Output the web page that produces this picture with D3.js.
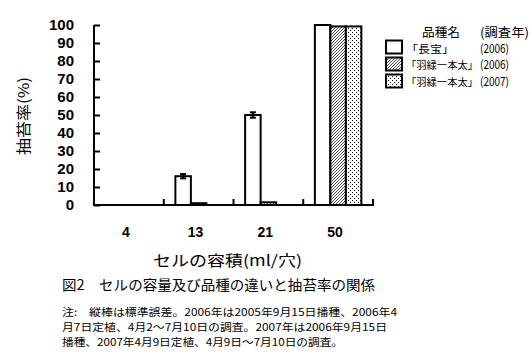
<!DOCTYPE html>
<html><head><meta charset="utf-8">
<script src="https://cdn.jsdelivr.net/npm/d3@7"></script>
<style>body{margin:0;background:#fff}svg{display:block}</style>
</head><body>
<script>
const categories = ["4", "13", "21", "50"];
const seriesNames = ["「長宝」", "「羽緑一本太」", "「羽緑一本太」"];
const seriesYears = ["(2006)", "(2006)", "(2007)"];
const choho2006 = [0, 16, 50, 100];
const hanemidori2006 = [0, 1, 1.5, 99.2];
const hanemidori2007 = [0, 0, 0, 99.2];
const choho2006Err = [0, 1.2, 1.5, 0];
const yTicks = [0, 10, 20, 30, 40, 50, 60, 70, 80, 90, 100];
const seriesValues = [choho2006, hanemidori2006, hanemidori2007];
const seriesErr = [choho2006Err, null, null];

const W = 531, H = 362;
const svg = d3.select("body").append("svg").attr("width", W).attr("height", H);
svg.append("rect").attr("width", W).attr("height", H).attr("fill", "#fff");
const defs = svg.append("defs");
const hatch = defs.append("pattern").attr("id", "hatch").attr("patternUnits", "userSpaceOnUse")
  .attr("width", 3).attr("height", 3);
hatch.append("rect").attr("width", 3).attr("height", 3).attr("fill", "#fff");
hatch.append("path").attr("d", "M-1,1 l2,-2 M0,3 l3,-3 M2,4 l2,-2").attr("stroke", "#000").attr("stroke-width", 0.7);
const dots = defs.append("pattern").attr("id", "dots").attr("patternUnits", "userSpaceOnUse")
  .attr("width", 4).attr("height", 4);
dots.append("rect").attr("width", 4).attr("height", 4).attr("fill", "#fff");
dots.append("rect").attr("x", 0).attr("y", 0).attr("width", 1).attr("height", 1).attr("fill", "#000").attr("shape-rendering", "crispEdges");
dots.append("rect").attr("x", 2).attr("y", 2).attr("width", 1).attr("height", 1).attr("fill", "#000").attr("shape-rendering", "crispEdges");
const fills = ["#fff", "url(#hatch)", "url(#dots)"];

const x0 = d3.scaleBand().domain(categories).range([94, 373]);
const bw = x0.bandwidth();
const groupW = 46.5;
const x1 = d3.scaleBand().domain(d3.range(3)).range([bw / 2 - groupW / 2, bw / 2 + groupW / 2]);
const y = d3.scaleLinear().domain([0, 100]).range([205, 25]);

const font = "'Liberation Sans', Arial, sans-serif";
const jfont = "'Noto Sans CJK JP', sans-serif";

// bars
const g = svg.append("g");
seriesValues.forEach((vals, si) => {
  g.selectAll(null).data(vals).enter().append("rect")
    .attr("x", (d, i) => x0(categories[i]) + x1(si))
    .attr("y", d => y(d))
    .attr("width", x1.bandwidth())
    .attr("height", d => y(0) - y(d))
    .attr("fill", fills[si]).attr("stroke", "#000").attr("stroke-width", 2)
    .attr("visibility", d => d > 0 ? "visible" : "hidden");
  const errs = seriesErr[si];
  if (errs) {
    vals.forEach((v, i) => {
      if (!errs[i]) return;
      const cx = x0(categories[i]) + x1(si) + x1.bandwidth() / 2;
      g.append("line").attr("x1", cx).attr("x2", cx).attr("y1", y(v - errs[i])).attr("y2", y(v + errs[i]))
        .attr("stroke", "#000").attr("stroke-width", 2);
      [v - errs[i], v + errs[i]].forEach(e => g.append("line").attr("x1", cx - 3).attr("x2", cx + 3)
        .attr("y1", y(e)).attr("y2", y(e)).attr("stroke", "#000").attr("stroke-width", 2));
    });
  }
});

// y axis
const yAxis = d3.axisLeft(y).tickValues(yTicks).tickSize(-6).tickPadding(20).tickFormat(d3.format("d"));
const ya = svg.append("g").attr("transform", "translate(94,0)").call(yAxis);
ya.select(".domain").attr("stroke-width", 2).attr("d", "M0,25V205");
ya.selectAll(".tick line").attr("stroke-width", 2);
ya.selectAll(".tick text").attr("font-family", font).attr("font-size", 15).attr("font-weight", "bold").attr("fill", "#000");

// x axis
const xa = svg.append("g").attr("transform", "translate(0,205)");
xa.append("line").attr("x1", 93).attr("x2", 374).attr("y1", 0).attr("y2", 0).attr("stroke", "#000").attr("stroke-width", 2);
categories.forEach((c, i) => {
  const xe = x0(c) + bw;
  xa.append("line").attr("x1", xe).attr("x2", xe).attr("y1", 0).attr("y2", -6).attr("stroke", "#000").attr("stroke-width", 2);
  xa.append("text").attr("x", x0(c) + bw / 2 - 3).attr("y", 32).attr("text-anchor", "middle")
    .attr("font-family", font).attr("font-size", 14).attr("font-weight", "bold").text(c);
});

// axis titles
svg.append("text").attr("transform", "translate(29,116) rotate(-90)").attr("text-anchor", "middle")
  .attr("font-family", jfont).attr("font-size", 15).attr("textLength", 78).attr("lengthAdjust", "spacingAndGlyphs")
  .text("抽苔率(%)");
svg.append("text").attr("x", 153).attr("y", 266).attr("font-family", jfont).attr("font-size", 15)
  .attr("textLength", 149).attr("lengthAdjust", "spacingAndGlyphs").text("セルの容積(ml/穴)");

// legend
const lg = svg.append("g").attr("font-family", jfont).attr("font-size", 10.5);
lg.append("text").attr("x", 422).attr("y", 37).attr("font-size", 12.5).attr("textLength", 38).attr("lengthAdjust", "spacingAndGlyphs").text("品種名");
lg.append("text").attr("x", 480).attr("y", 37).attr("font-size", 12.5).attr("textLength", 49).attr("lengthAdjust", "spacingAndGlyphs").text("(調査年)");
const boxY = [40.5, 57.5, 74.5], textY = [52.5, 68.5, 86];
seriesNames.forEach((n, i) => {
  lg.append("rect").attr("x", 386).attr("y", boxY[i]).attr("width", 16).attr("height", 13)
    .attr("fill", fills[i]).attr("stroke", "#000").attr("stroke-width", 2);
  lg.append("text").attr("x", 406).attr("y", textY[i]).attr("textLength", i === 0 ? 48 : 72)
    .attr("lengthAdjust", "spacingAndGlyphs").text(n);
  lg.append("text").attr("x", 480).attr("y", textY[i]).attr("font-size", 11.5).attr("textLength", 29).attr("lengthAdjust", "spacingAndGlyphs").text(seriesYears[i]);
});

// caption
svg.append("text").attr("x", 62).attr("y", 290).attr("font-family", jfont).attr("font-size", 14)
  .attr("textLength", 313).attr("lengthAdjust", "spacingAndGlyphs").text("図2　セルの容量及び品種の違いと抽苔率の関係");
const notes = [
  ["注:　縦棒は標準誤差。2006年は2005年9月15日播種、2006年4", 335],
  ["月7日定植、4月2～7月10日の調査。2007年は2006年9月15日", 325],
  ["播種、2007年4月9日定植、4月9日～7月10日の調査。", 281]
];
notes.forEach((n, i) => svg.append("text").attr("x", 62).attr("y", 316 + i * 15)
  .attr("font-family", jfont).attr("font-size", 10.5).attr("textLength", n[1]).attr("lengthAdjust", "spacingAndGlyphs").text(n[0]));
</script>
</body></html>
